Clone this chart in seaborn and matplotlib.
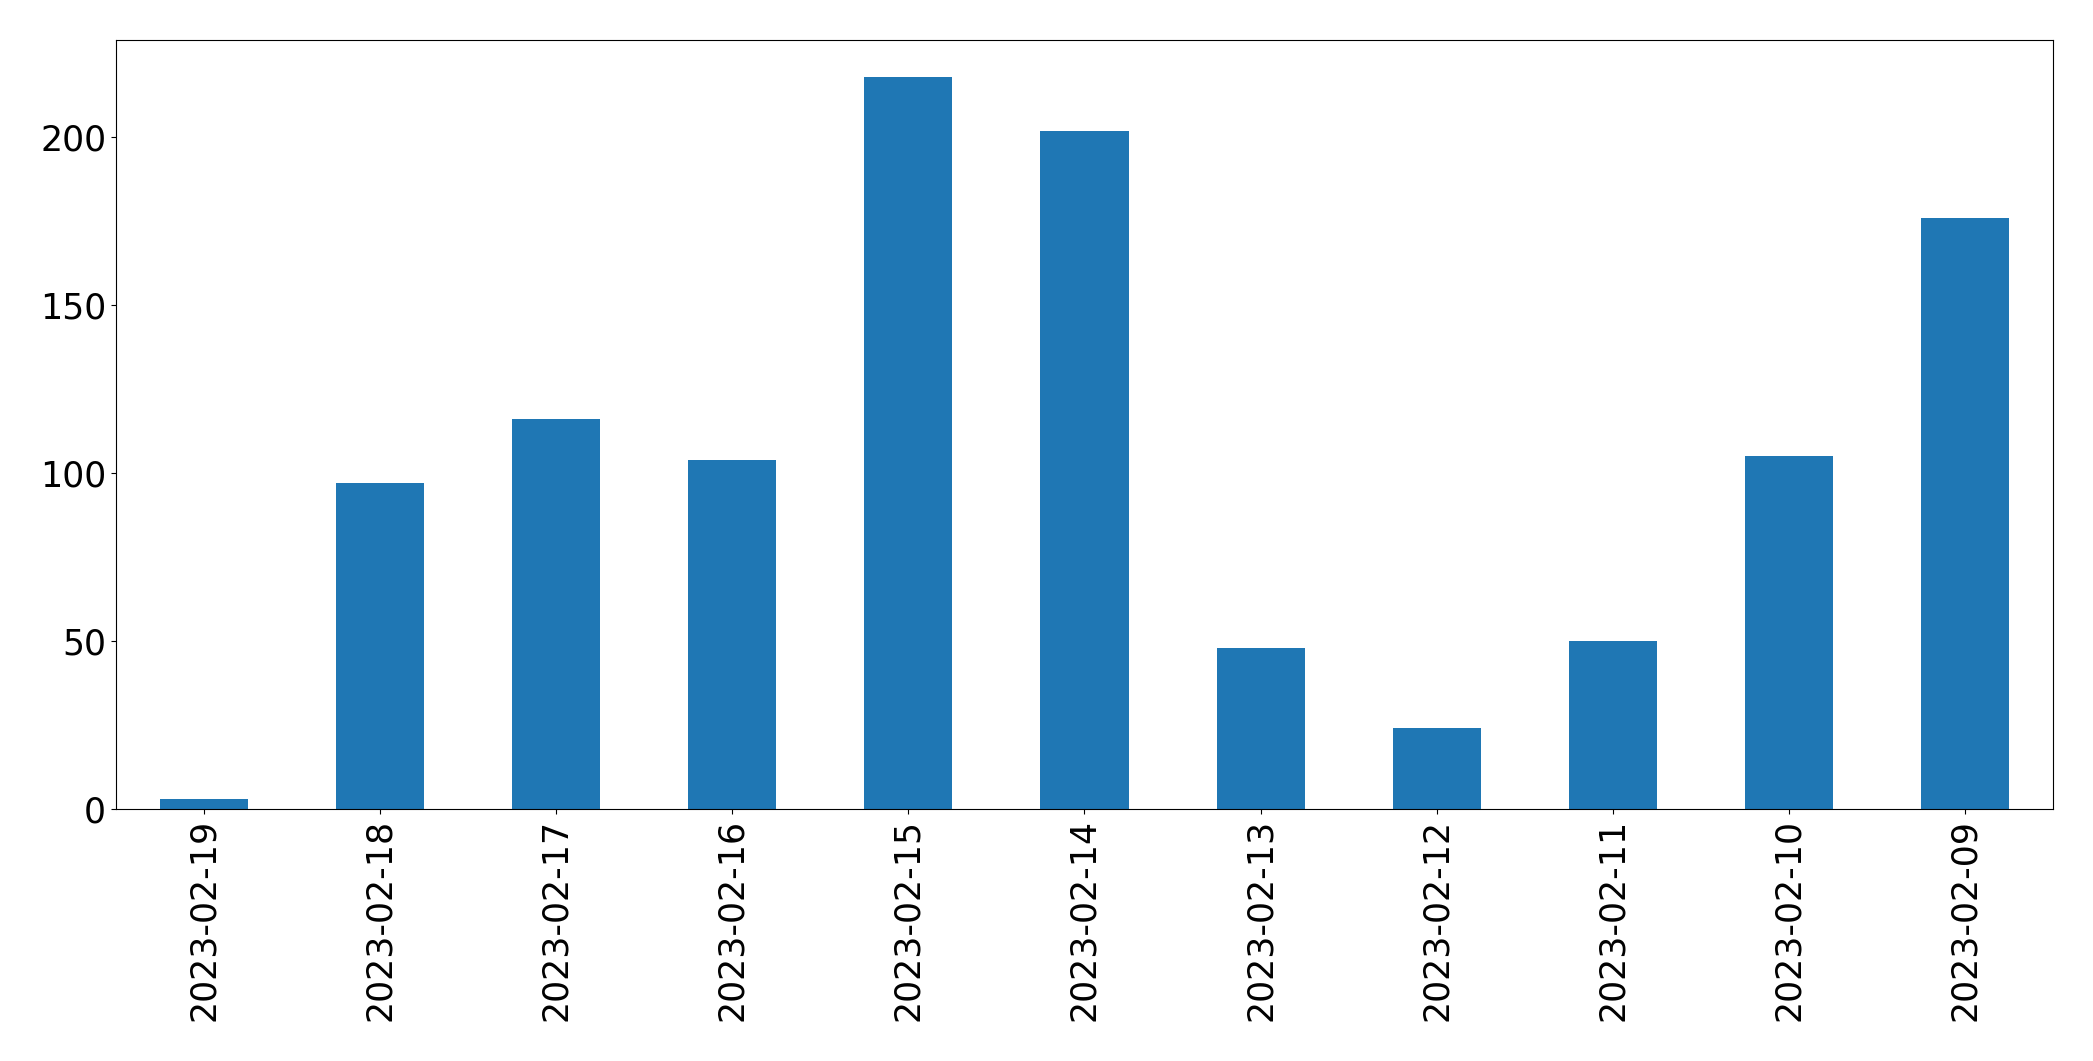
import pandas as pd
import matplotlib
matplotlib.use("Agg")
import matplotlib.pyplot as plt
import seaborn as sns

# daily counts, newest first (as in the original chart)
dates = ['2023-02-19', '2023-02-18', '2023-02-17', '2023-02-16', '2023-02-15',
         '2023-02-14', '2023-02-13', '2023-02-12', '2023-02-11', '2023-02-10',
         '2023-02-09']
counts = [3, 97, 116, 104, 218, 202, 48, 24, 50, 105, 176]

df = pd.DataFrame({'date': dates, 'count': counts})

fig = plt.figure(figsize=(20.93, 10.61), dpi=100)
ax = fig.add_axes([0.0554, 0.2375, 0.9255, 0.7245])

sns.barplot(data=df, x='date', y='count', order=dates, color='#1f77b4',
            saturation=1, width=0.5, ax=ax)

ax.set_ylim(0, max(counts) * 1.05)
ax.set_yticks([0, 50, 100, 150, 200])
ax.set_xlabel('')
ax.set_ylabel('')
ax.tick_params(axis='both', labelsize=25)
for s in ax.spines.values():
    s.set_color('black')
plt.setp(ax.get_xticklabels(), rotation=90)

fig.savefig('out.png', dpi=100)
